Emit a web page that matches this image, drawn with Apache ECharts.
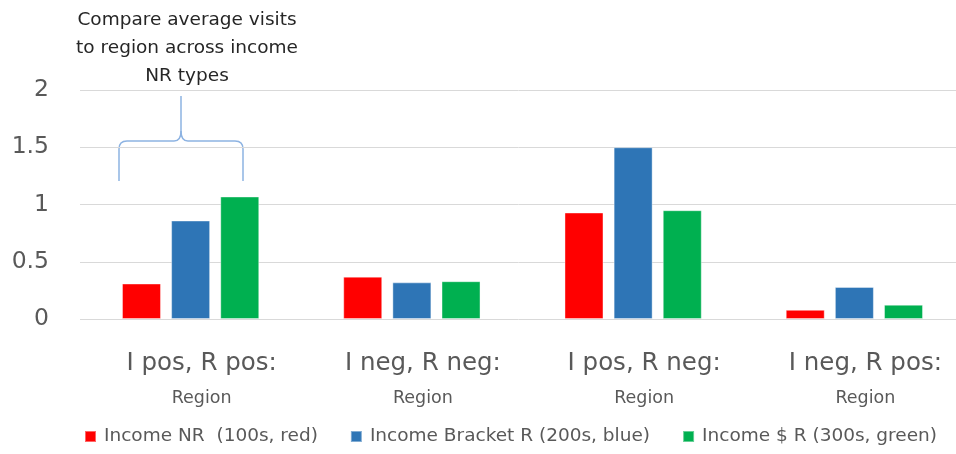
<!DOCTYPE html>
<html>
<head>
<meta charset="utf-8">
<script src="https://cdn.jsdelivr.net/npm/echarts@6/dist/echarts.min.js"></script>
<style>
  html, body { margin: 0; padding: 0; background: #fff; }
  #chart { width: 956px; height: 454px; }
</style>
</head>
<body>
<div id="chart"></div>
<script>
// data
var categories = ['I pos, R pos:', 'I neg, R neg:', 'I pos, R neg:', 'I neg, R pos:'];
var subLabel = 'Region';
var seriesNames = ['Income NR  (100s, red)', 'Income Bracket R (200s, blue)', 'Income $ R (300s, green)'];
var incomeNR = [0.31, 0.37, 0.93, 0.08];
var incomeBracketR = [0.86, 0.32, 1.5, 0.28];
var incomeDollarR = [1.07, 0.33, 0.95, 0.125];
var yTicks = [0, 0.5, 1, 1.5, 2];
var noteLines = ['Compare average visits', 'to region across income', 'NR types'];

var colors = ['#FF0000', '#2E75B6', '#00B050'];
var font = 'DejaVu Sans';
var grey = '#595959';
var braceStyle = { stroke: '#8db3e2', lineWidth: 1.5, fill: null };

var chart = echarts.init(document.getElementById('chart'));

function bar(name, data) {
  return {
    name: name,
    type: 'bar',
    data: data,
    barWidth: 39,
    barGap: '26%',
    itemStyle: { borderColor: 'rgba(255,255,255,0.4)', borderWidth: 1 }
  };
}

// curly brace over the first group, built from lines and curves
function brace(l, m, r, top, bottom, tip) {
  return [
    { type: 'line', shape: { x1: l, y1: bottom, x2: l, y2: top + 8 }, style: braceStyle },
    { type: 'bezierCurve', shape: { x1: l, y1: top + 8, x2: l + 8, y2: top, cpx1: l, cpy1: top }, style: braceStyle },
    { type: 'line', shape: { x1: l + 8, y1: top, x2: m - 7, y2: top }, style: braceStyle },
    { type: 'bezierCurve', shape: { x1: m - 7, y1: top, x2: m, y2: top - 10, cpx1: m, cpy1: top }, style: braceStyle },
    { type: 'line', shape: { x1: m, y1: top - 10, x2: m, y2: tip }, style: braceStyle },
    { type: 'bezierCurve', shape: { x1: m, y1: top - 10, x2: m + 7, y2: top, cpx1: m, cpy1: top }, style: braceStyle },
    { type: 'line', shape: { x1: m + 7, y1: top, x2: r - 8, y2: top }, style: braceStyle },
    { type: 'bezierCurve', shape: { x1: r - 8, y1: top, x2: r, y2: top + 8, cpx1: r, cpy1: top }, style: braceStyle },
    { type: 'line', shape: { x1: r, y1: top + 8, x2: r, y2: bottom }, style: braceStyle }
  ];
}

chart.setOption({
  animation: false,
  color: colors,
  textStyle: { fontFamily: font },
  grid: { left: 80, width: 885, top: 90, bottom: 135, outerBoundsMode: 'none' },
  legend: {
    left: 79,
    bottom: 3,
    icon: 'rect',
    itemWidth: 11,
    itemHeight: 11,
    itemGap: 32,
    textStyle: { fontSize: 18.5, color: grey, fontFamily: font, padding: [0, 0, 0, 3] },
    data: seriesNames
  },
  xAxis: {
    type: 'category',
    data: categories,
    axisLine: { show: false },
    axisTick: { show: false },
    axisLabel: {
      margin: 30,
      interval: 0,
      padding: [0, 0, 0, 22],
      formatter: function (v) { return '{a|' + v + '}\n{b|' + subLabel + '}'; },
      rich: {
        a: { fontSize: 24.5, color: grey, lineHeight: 30, fontFamily: font },
        b: { fontSize: 17.5, color: grey, lineHeight: 38, fontFamily: font }
      }
    }
  },
  yAxis: {
    type: 'value',
    min: yTicks[0],
    max: yTicks[yTicks.length - 1],
    interval: 0.5,
    axisLine: { show: false },
    axisTick: { show: false },
    axisLabel: { fontSize: 23.5, color: grey, margin: 31, fontFamily: font },
    splitLine: { lineStyle: { color: '#d9d9d9', width: 1 } }
  },
  graphic: [
    {
      type: 'text',
      x: 187,
      y: 6,
      style: {
        text: noteLines.join('\n'),
        fontSize: 18.5,
        lineHeight: 28,
        fill: '#262626',
        fontFamily: font,
        align: 'center',
        verticalAlign: 'top'
      }
    }
  ].concat(brace(119, 181, 243, 141, 181, 96)),
  series: [
    bar(seriesNames[0], incomeNR),
    bar(seriesNames[1], incomeBracketR),
    bar(seriesNames[2], incomeDollarR)
  ]
});
</script>
</body>
</html>
